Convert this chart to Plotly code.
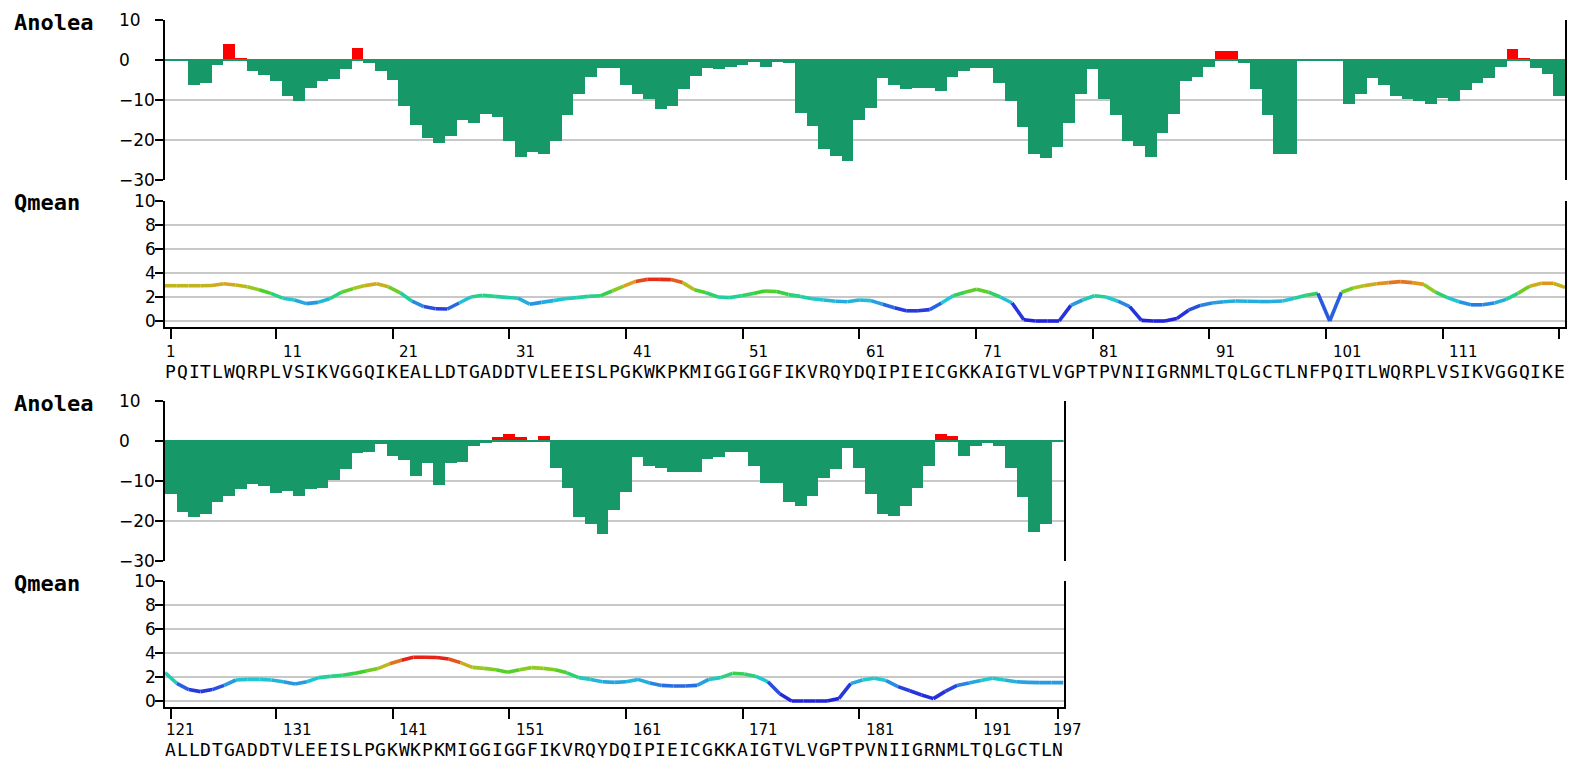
import plotly.graph_objects as go

W, H = 1569, 767

# Dimer sequence (chain A 1-99, chain B 100-197)
sequence = ("PQITLWQRPLVSIKVGGQIKEALLDTGADDTVLEEISLPGKWKPKMIGGIGGFIKVRQYDQIPIEICGKKAIGTVLVGPTPVNIIGRNMLTQLGCTLNF"
            "PQITLWQRPLVSIKVGGQIKEALLDTGADDTVLEEISLPGKWKPKMIGGIGGFIKVRQYDQIPIEICGKKAIGTVLVGPTPVNIIGRNMLTQLGCTLN")

# Anolea energy per residue, residues 1-120
anolea_row1 = [
    0, 0, -6.2, -5.8, -1.2, 4.1, 0.6, -2.7, -3.8, -5.2,
    -8.9, -10.2, -6.9, -5.2, -4.8, -2.2, 3.1, -0.7, -2.7, -4.9,
    -11.5, -16.3, -19.4, -20.8, -19.0, -15.0, -15.8, -13.6, -14.3, -20.2,
    -24.2, -23.1, -23.4, -20.2, -13.7, -8.5, -4.3, -2.0, -2.0, -6.3,
    -8.5, -9.8, -12.3, -11.5, -7.3, -4.0, -2.0, -2.2, -1.8, -1.3,
    -0.4, -1.8, -0.4, -0.7, -13.3, -16.4, -22.3, -23.9, -25.3, -15.0,
    -11.9, -4.4, -6.3, -7.3, -7.0, -7.0, -7.7, -4.3, -2.8, -1.9,
    -1.9, -5.8, -10.2, -16.8, -23.5, -24.4, -21.7, -15.8, -8.5, -2.3,
    -9.8, -13.8, -20.3, -21.4, -24.3, -18.3, -13.5, -5.2, -4.3, -1.7,
    2.2, 2.2, -0.7, -7.3, -13.7, -23.4, -23.4, 0, 0, 0,
    0, -10.9, -8.5, -4.4, -6.3, -8.9, -9.8, -10.2, -10.9, -9.4,
    -10.2, -7.4, -5.8, -4.4, -1.8, 2.7, 0.6, -1.9, -3.4, -8.9,
]
# Anolea energy per residue, residues 121-197
anolea_row2 = [
    -13.2, -17.7, -19.1, -18.2, -15.2, -13.7, -11.9, -10.8, -11.2, -13.1,
    -12.4, -13.7, -12.1, -11.8, -9.7, -7.1, -3.1, -2.7, -0.7, -3.7,
    -4.7, -8.7, -5.6, -11.1, -5.6, -5.2, -1.2, -0.6, 1.1, 1.7,
    1.1, -0.2, 1.2, -6.7, -11.8, -19.1, -20.8, -23.2, -17.2, -12.8,
    -3.9, -6.2, -6.7, -7.7, -7.7, -7.7, -4.4, -3.9, -2.7, -2.7,
    -6.2, -10.6, -10.6, -15.2, -16.2, -13.7, -9.3, -7.1, -1.7, -6.7,
    -13.2, -18.2, -18.7, -16.2, -11.7, -6.2, 1.7, 1.2, -3.7, -1.2,
    -0.3, -1.2, -6.7, -14.1, -22.7, -20.7, 0,
]

# QMEAN local score per residue, residues 1-120
qmean_row1 = [
    2.94, 2.94, 2.94, 2.94, 2.96, 3.1, 3.0, 2.85, 2.6, 2.3,
    1.9, 1.75, 1.45, 1.55, 1.85, 2.4, 2.7, 2.95, 3.1, 2.85,
    2.35, 1.65, 1.2, 1.02, 1.0, 1.5, 2.0, 2.15, 2.05, 1.97,
    1.9, 1.4, 1.55, 1.7, 1.85, 1.95, 2.05, 2.1, 2.5, 2.9,
    3.3, 3.47, 3.47, 3.45, 3.2, 2.6, 2.35, 2.0, 1.95, 2.1,
    2.3, 2.5, 2.45, 2.2, 2.05, 1.85, 1.75, 1.65, 1.6, 1.75,
    1.7, 1.4, 1.1, 0.85, 0.85, 0.95, 1.5, 2.1, 2.4, 2.64,
    2.4, 2.0, 1.5, 0.1, 0, 0, 0, 1.3, 1.75, 2.1,
    2.0, 1.65, 1.2, 0.05, 0, 0, 0.2, 0.9, 1.3, 1.5,
    1.6, 1.67, 1.65, 1.62, 1.62, 1.67, 1.9, 2.15, 2.3, 0,
    2.4, 2.75, 2.95, 3.1, 3.2, 3.28, 3.2, 3.05, 2.4, 1.95,
    1.6, 1.35, 1.35, 1.5, 1.8, 2.3, 2.9, 3.14, 3.14, 2.8,
]
# QMEAN local score per residue, residues 121-197
qmean_row2 = [
    2.36, 1.47, 0.95, 0.78, 0.95, 1.3, 1.75, 1.8, 1.8, 1.75,
    1.6, 1.42, 1.6, 1.95, 2.05, 2.15, 2.3, 2.5, 2.7, 3.1,
    3.4, 3.64, 3.64, 3.62, 3.5, 3.2, 2.8, 2.72, 2.6, 2.4,
    2.6, 2.78, 2.72, 2.6, 2.35, 1.95, 1.8, 1.6, 1.55, 1.6,
    1.8, 1.5, 1.3, 1.25, 1.25, 1.3, 1.8, 1.95, 2.3, 2.25,
    2.05, 1.6, 0.6, 0, 0, 0, 0, 0.2, 1.45, 1.75,
    1.9, 1.7, 1.2, 0.85, 0.5, 0.2, 0.8, 1.3, 1.5, 1.7,
    1.9, 1.75, 1.6, 1.55, 1.53, 1.53, 1.53,
]

tick_marks_row1 = [1] + list(range(10, 121, 10))
tick_labels_row1 = [1, 11, 21, 31, 41, 51, 61, 71, 81, 91, 101, 111]
tick_marks_row2 = [121, 130, 140, 150, 160, 170, 180, 190, 197]
tick_labels_row2 = [121, 131, 141, 151, 161, 171, 181, 191, 197]

anolea_ticks = [10, 0, -10, -20, -30]
qmean_ticks = [10, 8, 6, 4, 2, 0]

GREEN = "#169868"
RED = "#ff0000"
GRID = "#c8c8c8"
NUM_FONT = dict(family="DejaVu Sans", size=17, color="black")
RES_FONT = dict(family="DejaVu Sans", size=15, color="black")
SEQ_FONT = dict(family="DejaVu Sans Mono", size=18, color="black")
LBL_FONT = dict(family="DejaVu Sans Mono", size=22, color="black")


def fx(px):
    return px / W


def fy(py):
    return 1 - py / H


# jet-like palette for the QMEAN trace
QSTOPS = [
    (0.0, (35, 35, 215)), (1.0, (40, 60, 222)), (1.5, (40, 150, 228)),
    (1.8, (30, 200, 212)), (2.1, (40, 210, 130)), (2.4, (60, 210, 45)),
    (2.8, (165, 200, 30)), (3.1, (222, 160, 30)), (3.3, (228, 100, 30)),
    (3.5, (228, 35, 25)), (10.0, (228, 35, 25)),
]


def qcolor(v):
    for (a, ca), (b, cb) in zip(QSTOPS[:-1], QSTOPS[1:]):
        if v <= b:
            t = 0 if b == a else max(0.0, (v - a) / (b - a))
            c = [round(ca[k] + t * (cb[k] - ca[k])) for k in range(3)]
            return f"rgb({c[0]},{c[1]},{c[2]})"
    return "rgb(228,35,25)"


fig = go.Figure()
annotations = []

rows = [
    dict(start=1, anolea=anolea_row1, qmean=qmean_row1, xb="x", yb="y", xq="x2", yq="y2",
         marks=tick_marks_row1, labels=tick_labels_row1,
         right=1565, a_top=20, a_bot=180, q_top=201, q_bot=327, lab_y=352, seq_y=371),
    dict(start=121, anolea=anolea_row2, qmean=qmean_row2, xb="x3", yb="y3", xq="x4", yq="y4",
         marks=tick_marks_row2, labels=tick_labels_row2,
         right=1063.5, a_top=401, a_bot=561, q_top=581, q_bot=707, lab_y=730, seq_y=749),
]

layout_axes = {}
for row in rows:
    n = len(row["anolea"])
    res = list(range(row["start"], row["start"] + n))
    first, last = res[0], res[-1]

    # green baseline of the Anolea panel, drawn under the bars
    fig.add_trace(go.Scatter(
        x=[first - 0.5, last + 0.5], y=[0, 0], mode="lines",
        line=dict(color=GREEN, width=2), xaxis=row["xb"], yaxis=row["yb"],
        showlegend=False, hoverinfo="skip",
    ))

    # Anolea bars
    fig.add_trace(go.Bar(
        x=res, y=row["anolea"], width=1,
        marker=dict(color=[RED if v > 0 else GREEN for v in row["anolea"]], line=dict(width=0)),
        xaxis=row["xb"], yaxis=row["yb"], showlegend=False, hoverinfo="x+y",
    ))

    # QMEAN curve, coloured segment by segment
    q = row["qmean"]
    for k in range(n - 1):
        fig.add_trace(go.Scatter(
            x=[res[k], res[k + 1]], y=[q[k], q[k + 1]], mode="lines",
            line=dict(color=qcolor((q[k] + q[k + 1]) / 2), width=3.6),
            xaxis=row["xq"], yaxis=row["yq"], showlegend=False, hoverinfo="skip",
        ))

    xb_name = "xaxis" if row["xb"] == "x" else "xaxis" + row["xb"][1:]
    xq_name = "xaxis" + row["xq"][1:]
    yb_name = "yaxis" if row["yb"] == "y" else "yaxis" + row["yb"][1:]
    yq_name = "yaxis" + row["yq"][1:]
    dom_x = [fx(165), fx(row["right"])]

    layout_axes[xb_name] = dict(
        domain=dom_x, range=[first - 0.5, last + 0.5], anchor=row["yq"],
        showline=True, linecolor="black", linewidth=2,
        ticks="outside", ticklen=10, tickwidth=1.5, tickcolor="black",
        tickvals=row["marks"], showticklabels=False, showgrid=False, zeroline=False,
    )
    layout_axes[xq_name] = dict(overlaying=row["xb"], range=[first, last], visible=False,
                                anchor=row["yq"])
    common_y = dict(
        showline=True, linecolor="black", linewidth=2, mirror=True,
        ticks="outside", ticklen=8, tickwidth=1.5, tickcolor="black",
        showticklabels=False, showgrid=True, gridcolor=GRID, gridwidth=1.5, zeroline=False,
    )
    layout_axes[yb_name] = dict(domain=[fy(row["a_bot"]), fy(row["a_top"])], range=[-30, 10],
                                anchor=row["xb"], tickvals=anolea_ticks, **common_y)
    layout_axes[yq_name] = dict(domain=[fy(row["q_bot"]), fy(row["q_top"])], range=[-0.5, 10],
                                anchor=row["xb"], tickvals=qmean_ticks, **common_y)

    # panel titles
    annotations.append(dict(text="<b>Anolea</b>", xref="paper", yref="paper", x=fx(12),
                            y=fy(row["a_top"] + 2), xanchor="left", yanchor="middle",
                            showarrow=False, font=LBL_FONT))
    annotations.append(dict(text="<b>Qmean</b>", xref="paper", yref="paper", x=fx(12),
                            y=fy(row["q_top"] + 2), xanchor="left", yanchor="middle",
                            showarrow=False, font=LBL_FONT))

    # y tick labels
    for v in anolea_ticks:
        annotations.append(dict(text=str(v).replace("-", "\u2212"), xref="paper", yref=row["yb"],
                                x=fx(117), y=v, xanchor="left", yanchor="middle",
                                showarrow=False, font=NUM_FONT))
    for v in qmean_ticks:
        annotations.append(dict(text=str(v), xref="paper", yref=row["yq"],
                                x=fx(158), y=v, xanchor="right", yanchor="middle",
                                showarrow=False, font=NUM_FONT))

    # residue number labels
    for r in row["labels"]:
        annotations.append(dict(text=str(r), xref=row["xb"], yref="paper", x=r - 0.5,
                                y=fy(row["lab_y"]), xanchor="left", yanchor="middle",
                                showarrow=False, font=RES_FONT, borderpad=0))

    # sequence letters, one per residue
    for r in res:
        annotations.append(dict(text=sequence[r - 1], xref=row["xb"], yref="paper", x=r,
                                y=fy(row["seq_y"]), xanchor="center", yanchor="middle",
                                showarrow=False, font=SEQ_FONT, borderpad=0))

fig.update_layout(
    width=W, height=H, margin=dict(l=0, r=0, t=0, b=0),
    paper_bgcolor="white", plot_bgcolor="white",
    bargap=0, showlegend=False,
    annotations=annotations,
    **layout_axes,
)

fig.write_html("out.html")
